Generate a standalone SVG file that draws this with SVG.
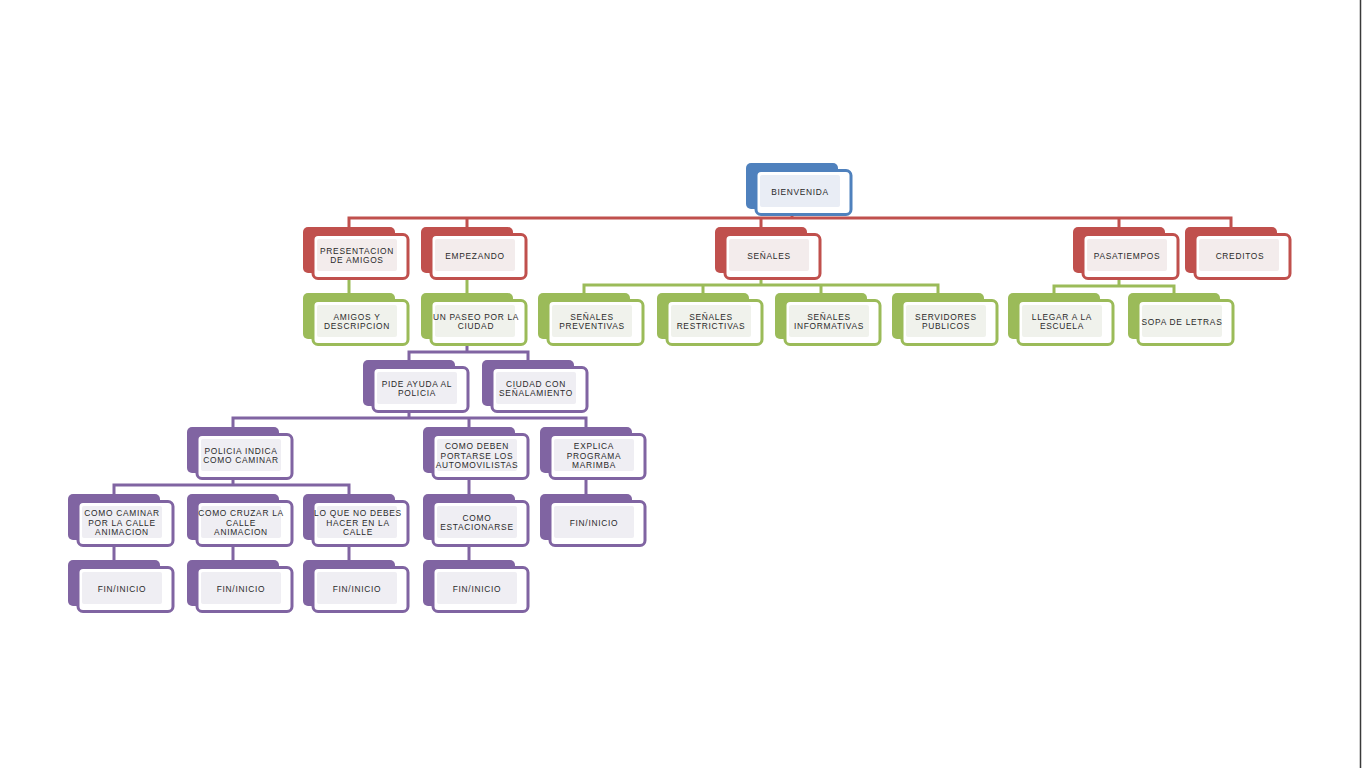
<svg xmlns="http://www.w3.org/2000/svg" width="1362" height="770" viewBox="0 0 1362 770">
<defs>
<style>
.bg{fill:#ffffff}
.c{fill:none;stroke-width:3;stroke-linejoin:miter}
.cr{stroke:#C0504D}.cg{stroke:#9BBB59}.cp{stroke:#8064A2}
.bk{rx:5;ry:5}
.fr{fill:#ffffff;stroke-width:3;rx:5;ry:5}
.bx{rx:2;ry:2}
.blue .bk{fill:#4F81BD}.blue .fr{stroke:#4F81BD}.blue .bx{fill:#E9EDF5}
.red .bk{fill:#C0504D}.red .fr{stroke:#C0504D}.red .bx{fill:#F3ECEC}
.green .bk{fill:#9BBB59}.green .fr{stroke:#9BBB59}.green .bx{fill:#F0F2EC}
.purple .bk{fill:#8064A2}.purple .fr{stroke:#8064A2}.purple .bx{fill:#EFEEF3}
text{font-family:"Liberation Sans",Arial,sans-serif;font-size:8.4px;letter-spacing:0.7px;fill:#2a2a2a;text-anchor:middle}
</style>
</defs>
<rect class="bg" x="0" y="0" width="1362" height="770"/>
<line x1="1360.5" y1="0" x2="1360.5" y2="768" stroke="#3a3a3a" stroke-width="1.5"/>

<g id="connectors">
<path class="c cr" d="M349 229 V218 H1231 V229 M467 218 V229 M761 218 V229 M1119 218 V229 M792 212 V218"/>
<path class="c cg" d="M349 278 V295 M467 278 V295 M761 278 V285 M584 295 V285 H938 V295 M703 285 V295 M821 285 V295 M1119 278 V286 M1054 295 V286 H1174 V295"/>
<path class="c cp" d="M467 344 V352 M409 362 V352 H528 V362 M409 410 V418 M233 429 V418 H586 V429 M469 418 V429 M233 477 V485 M114 496 V485 H349 V496 M469 477 V496 M586 477 V496 M114 544 V562 M233 544 V562 M349 544 V562 M469 544 V562"/>
</g>

<g id="n-bienvenida" class="blue"><rect class="bk" x="746" y="163" width="92" height="46"/><rect class="fr" x="756" y="170.5" width="95" height="44"/><rect class="bx" x="760" y="175" width="80" height="32"/><text x="800" y="194.5">BIENVENIDA</text></g>

<g id="n-presentacion" class="red"><rect class="bk" x="303" y="227" width="92" height="46"/><rect class="fr" x="313" y="234.5" width="95" height="44"/><rect class="bx" x="317" y="239" width="80" height="32"/><text x="357" y="253.75">PRESENTACION</text><text x="357" y="263.25">DE AMIGOS</text></g>
<g id="n-empezando" class="red"><rect class="bk" x="421" y="227" width="92" height="46"/><rect class="fr" x="431" y="234.5" width="95" height="44"/><rect class="bx" x="435" y="239" width="80" height="32"/><text x="475" y="258.5">EMPEZANDO</text></g>
<g id="n-senales" class="red"><rect class="bk" x="715" y="227" width="92" height="46"/><rect class="fr" x="725" y="234.5" width="95" height="44"/><rect class="bx" x="729" y="239" width="80" height="32"/><text x="769" y="258.5">SEÑALES</text></g>
<g id="n-pasatiempos" class="red"><rect class="bk" x="1073" y="227" width="92" height="46"/><rect class="fr" x="1083" y="234.5" width="95" height="44"/><rect class="bx" x="1087" y="239" width="80" height="32"/><text x="1127" y="258.5">PASATIEMPOS</text></g>
<g id="n-creditos" class="red"><rect class="bk" x="1185" y="227" width="92" height="46"/><rect class="fr" x="1195" y="234.5" width="95" height="44"/><rect class="bx" x="1199" y="239" width="80" height="32"/><text x="1240" y="258.5">CREDITOS</text></g>

<g id="n-amigos" class="green"><rect class="bk" x="303" y="293" width="92" height="46"/><rect class="fr" x="313" y="300.5" width="95" height="44"/><rect class="bx" x="317" y="305" width="80" height="32"/><text x="357" y="319.75">AMIGOS Y</text><text x="357" y="329.25">DESCRIPCION</text></g>
<g id="n-paseo" class="green"><rect class="bk" x="421" y="293" width="92" height="46"/><rect class="fr" x="431" y="300.5" width="95" height="44"/><rect class="bx" x="435" y="305" width="80" height="32"/><text x="476" y="319.75">UN PASEO POR LA</text><text x="476" y="329.25">CIUDAD</text></g>
<g id="n-preventivas" class="green"><rect class="bk" x="538" y="293" width="92" height="46"/><rect class="fr" x="548" y="300.5" width="95" height="44"/><rect class="bx" x="552" y="305" width="80" height="32"/><text x="592" y="319.75">SEÑALES</text><text x="592" y="329.25">PREVENTIVAS</text></g>
<g id="n-restrictivas" class="green"><rect class="bk" x="657" y="293" width="92" height="46"/><rect class="fr" x="667" y="300.5" width="95" height="44"/><rect class="bx" x="671" y="305" width="80" height="32"/><text x="711" y="319.75">SEÑALES</text><text x="711" y="329.25">RESTRICTIVAS</text></g>
<g id="n-informativas" class="green"><rect class="bk" x="775" y="293" width="92" height="46"/><rect class="fr" x="785" y="300.5" width="95" height="44"/><rect class="bx" x="789" y="305" width="80" height="32"/><text x="829" y="319.75">SEÑALES</text><text x="829" y="329.25">INFORMATIVAS</text></g>
<g id="n-servidores" class="green"><rect class="bk" x="892" y="293" width="92" height="46"/><rect class="fr" x="902" y="300.5" width="95" height="44"/><rect class="bx" x="906" y="305" width="80" height="32"/><text x="946" y="319.75">SERVIDORES</text><text x="946" y="329.25">PUBLICOS</text></g>
<g id="n-llegar" class="green"><rect class="bk" x="1008" y="293" width="92" height="46"/><rect class="fr" x="1018" y="300.5" width="95" height="44"/><rect class="bx" x="1022" y="305" width="80" height="32"/><text x="1062" y="319.75">LLEGAR A LA</text><text x="1062" y="329.25">ESCUELA</text></g>
<g id="n-sopa" class="green"><rect class="bk" x="1128" y="293" width="92" height="46"/><rect class="fr" x="1138" y="300.5" width="95" height="44"/><rect class="bx" x="1142" y="305" width="80" height="32"/><text x="1182" y="324.5">SOPA DE LETRAS</text></g>

<g id="n-pide" class="purple"><rect class="bk" x="363" y="360" width="92" height="46"/><rect class="fr" x="373" y="367.5" width="95" height="44"/><rect class="bx" x="377" y="372" width="80" height="32"/><text x="417" y="386.75">PIDE AYUDA AL</text><text x="417" y="396.25">POLICIA</text></g>
<g id="n-ciudad" class="purple"><rect class="bk" x="482" y="360" width="92" height="46"/><rect class="fr" x="492" y="367.5" width="95" height="44"/><rect class="bx" x="496" y="372" width="80" height="32"/><text x="536" y="386.75">CIUDAD CON</text><text x="536" y="396.25">SEÑALAMIENTO</text></g>

<g id="n-policia" class="purple"><rect class="bk" x="187" y="427" width="92" height="46"/><rect class="fr" x="197" y="434.5" width="95" height="44"/><rect class="bx" x="201" y="439" width="80" height="32"/><text x="241" y="453.75">POLICIA INDICA</text><text x="241" y="463.25">COMO CAMINAR</text></g>
<g id="n-deben" class="purple"><rect class="bk" x="423" y="427" width="92" height="46"/><rect class="fr" x="433" y="434.5" width="95" height="44"/><rect class="bx" x="437" y="439" width="80" height="32"/><text x="477" y="449">COMO DEBEN</text><text x="477" y="458.5">PORTARSE LOS</text><text x="477" y="468">AUTOMOVILISTAS</text></g>
<g id="n-explica" class="purple"><rect class="bk" x="540" y="427" width="92" height="46"/><rect class="fr" x="550" y="434.5" width="95" height="44"/><rect class="bx" x="554" y="439" width="80" height="32"/><text x="594" y="449">EXPLICA</text><text x="594" y="458.5">PROGRAMA</text><text x="594" y="468">MARIMBA</text></g>

<g id="n-caminar" class="purple"><rect class="bk" x="68" y="494" width="92" height="46"/><rect class="fr" x="78" y="501.5" width="95" height="44"/><rect class="bx" x="82" y="506" width="80" height="32"/><text x="122" y="516">COMO CAMINAR</text><text x="122" y="525.5">POR LA CALLE</text><text x="122" y="535">ANIMACION</text></g>
<g id="n-cruzar" class="purple"><rect class="bk" x="187" y="494" width="92" height="46"/><rect class="fr" x="197" y="501.5" width="95" height="44"/><rect class="bx" x="201" y="506" width="80" height="32"/><text x="241" y="516">COMO CRUZAR LA</text><text x="241" y="525.5">CALLE</text><text x="241" y="535">ANIMACION</text></g>
<g id="n-noDebes" class="purple"><rect class="bk" x="303" y="494" width="92" height="46"/><rect class="fr" x="313" y="501.5" width="95" height="44"/><rect class="bx" x="317" y="506" width="80" height="32"/><text x="358" y="516">LO QUE NO DEBES</text><text x="358" y="525.5">HACER EN LA</text><text x="358" y="535">CALLE</text></g>
<g id="n-estacionarse" class="purple"><rect class="bk" x="423" y="494" width="92" height="46"/><rect class="fr" x="433" y="501.5" width="95" height="44"/><rect class="bx" x="437" y="506" width="80" height="32"/><text x="477" y="520.75">COMO</text><text x="477" y="530.25">ESTACIONARSE</text></g>
<g id="n-fin5" class="purple"><rect class="bk" x="540" y="494" width="92" height="46"/><rect class="fr" x="550" y="501.5" width="95" height="44"/><rect class="bx" x="554" y="506" width="80" height="32"/><text x="594" y="525.5">FIN/INICIO</text></g>

<g id="n-fin1" class="purple"><rect class="bk" x="68" y="560" width="92" height="46"/><rect class="fr" x="78" y="567.5" width="95" height="44"/><rect class="bx" x="82" y="572" width="80" height="32"/><text x="122" y="591.5">FIN/INICIO</text></g>
<g id="n-fin2" class="purple"><rect class="bk" x="187" y="560" width="92" height="46"/><rect class="fr" x="197" y="567.5" width="95" height="44"/><rect class="bx" x="201" y="572" width="80" height="32"/><text x="241" y="591.5">FIN/INICIO</text></g>
<g id="n-fin3" class="purple"><rect class="bk" x="303" y="560" width="92" height="46"/><rect class="fr" x="313" y="567.5" width="95" height="44"/><rect class="bx" x="317" y="572" width="80" height="32"/><text x="357" y="591.5">FIN/INICIO</text></g>
<g id="n-fin4" class="purple"><rect class="bk" x="423" y="560" width="92" height="46"/><rect class="fr" x="433" y="567.5" width="95" height="44"/><rect class="bx" x="437" y="572" width="80" height="32"/><text x="477" y="591.5">FIN/INICIO</text></g>
</svg>
